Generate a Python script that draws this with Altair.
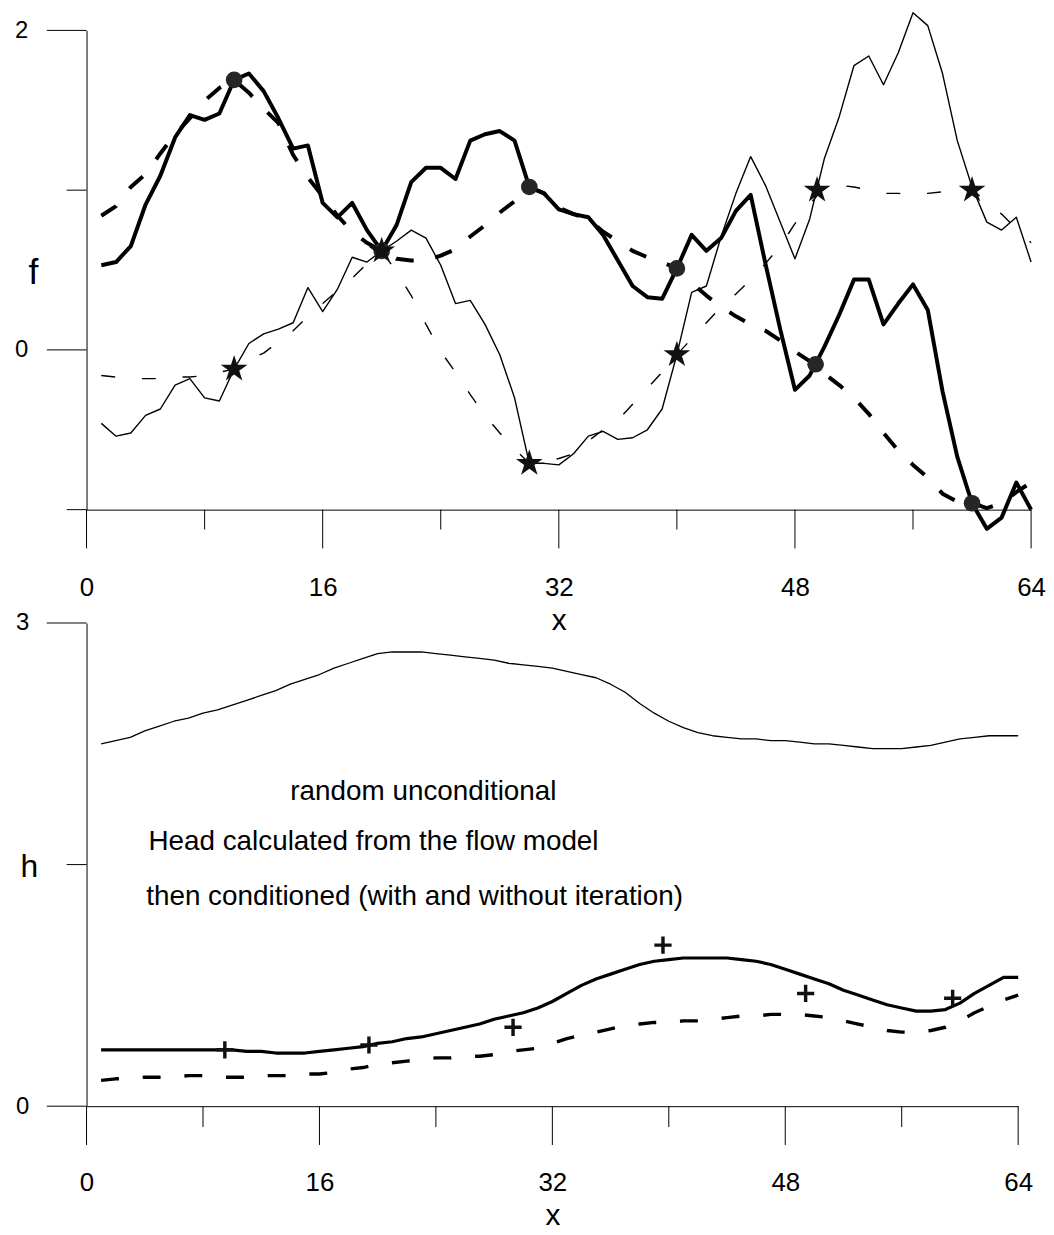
import altair as alt
import pandas as pd

FONT = "Liberation Sans"

# ---------------- data: top panel (f) ----------------
x_grid = list(range(1, 65))

f_cond_sim = [0.53, 0.55, 0.65, 0.91, 1.09, 1.33, 1.47, 1.44, 1.48, 1.69,
              1.73, 1.62, 1.45, 1.26, 1.28, 0.92, 0.83, 0.92, 0.75, 0.62,
              0.78, 1.05, 1.14, 1.14, 1.07, 1.31, 1.35, 1.37, 1.31, 1.02,
              0.98, 0.88, 0.85, 0.83, 0.72, 0.56, 0.40, 0.33, 0.32, 0.51,
              0.72, 0.62, 0.70, 0.87, 0.97, 0.54, 0.13, -0.25, -0.16, 0.02,
              0.22, 0.44, 0.44, 0.16, 0.29, 0.41, 0.25, -0.26, -0.67, -0.96,
              -1.12, -1.05, -0.83, -1.00]

f_cond_krig = [0.84, 0.90, 1.02, 1.10, 1.23, 1.35, 1.45, 1.56, 1.64, 1.69,
               1.61, 1.51, 1.42, 1.22, 1.08, 0.96, 0.84, 0.74, 0.67, 0.62,
               0.57, 0.56, 0.56, 0.59, 0.63, 0.71, 0.78, 0.86, 0.93, 1.02,
               0.98, 0.89, 0.85, 0.82, 0.74, 0.68, 0.62, 0.58, 0.55, 0.51,
               0.42, 0.34, 0.27, 0.21, 0.16, 0.12, 0.06, -0.01, -0.07, -0.15,
               -0.22, -0.30, -0.40, -0.52, -0.63, -0.72, -0.80, -0.90, -0.95, -0.96,
               -0.99, -0.96, -0.89, -0.83]

f_uncond_sim = [-0.46, -0.54, -0.52, -0.41, -0.37, -0.22, -0.18, -0.30, -0.32, -0.12,
                0.04, 0.10, 0.13, 0.17, 0.39, 0.24, 0.38, 0.58, 0.55, 0.62,
                0.68, 0.75, 0.70, 0.53, 0.29, 0.31, 0.16, -0.03, -0.30, -0.71,
                -0.71, -0.72, -0.65, -0.54, -0.51, -0.56, -0.55, -0.50, -0.37, -0.03,
                0.36, 0.40, 0.71, 0.98, 1.21, 1.03, 0.80, 0.57, 0.82, 1.20,
                1.46, 1.78, 1.84, 1.66, 1.86, 2.11, 2.03, 1.73, 1.31, 1.02,
                0.80, 0.75, 0.83, 0.55]

f_uncond_krig = [-0.16, -0.17, -0.18, -0.18, -0.18, -0.17, -0.17, -0.16, -0.14, -0.12,
                 -0.06, -0.02, 0.05, 0.12, 0.21, 0.29, 0.37, 0.45, 0.54, 0.62,
                 0.49, 0.34, 0.16, -0.01, -0.14, -0.28, -0.41, -0.52, -0.62, -0.71,
                 -0.70, -0.68, -0.65, -0.57, -0.50, -0.44, -0.34, -0.24, -0.14, -0.03,
                 0.07, 0.17, 0.27, 0.35, 0.44, 0.54, 0.65, 0.79, 0.91, 1.02,
                 1.03, 1.02, 1.00, 0.98, 0.98, 0.97, 0.98, 0.99, 1.00, 1.00,
                 0.93, 0.85, 0.76, 0.67]

circle_x = [10, 20, 30, 40, 49.4, 60]
circle_y = [1.69, 0.62, 1.02, 0.51, -0.09, -0.96]
star_x = [10, 20, 30, 40, 49.5, 60]
star_y = [-0.12, 0.62, -0.71, -0.03, 1.00, 1.00]

# ---------------- data: bottom panel (h) ----------------
h_uncond = [2.25, 2.27, 2.29, 2.33, 2.36, 2.39, 2.41, 2.44, 2.46, 2.49,
            2.52, 2.55, 2.58, 2.62, 2.65, 2.68, 2.72, 2.75, 2.78, 2.81,
            2.82, 2.82, 2.82, 2.81, 2.80, 2.79, 2.78, 2.77, 2.75, 2.74,
            2.73, 2.72, 2.70, 2.68, 2.66, 2.62, 2.57, 2.50, 2.44, 2.39,
            2.35, 2.32, 2.30, 2.29, 2.28, 2.28, 2.27, 2.27, 2.26, 2.25,
            2.25, 2.24, 2.23, 2.22, 2.22, 2.22, 2.23, 2.24, 2.26, 2.28,
            2.29, 2.30, 2.30, 2.30]

h_cond_iter = [0.35, 0.35, 0.35, 0.35, 0.35, 0.35, 0.35, 0.35, 0.35, 0.35,
               0.34, 0.34, 0.33, 0.33, 0.33, 0.34, 0.35, 0.36, 0.37, 0.39,
               0.40, 0.42, 0.43, 0.45, 0.47, 0.49, 0.51, 0.54, 0.56, 0.58,
               0.61, 0.65, 0.70, 0.75, 0.79, 0.82, 0.85, 0.88, 0.90, 0.91,
               0.92, 0.92, 0.92, 0.92, 0.91, 0.90, 0.88, 0.85, 0.82, 0.79,
               0.76, 0.72, 0.69, 0.66, 0.63, 0.61, 0.59, 0.59, 0.60, 0.64,
               0.70, 0.75, 0.80, 0.80]

h_cond_noiter = [0.16, 0.17, 0.17, 0.18, 0.18, 0.18, 0.19, 0.19, 0.18, 0.18,
                 0.18, 0.19, 0.19, 0.19, 0.20, 0.20, 0.21, 0.23, 0.24, 0.26,
                 0.27, 0.28, 0.29, 0.30, 0.30, 0.31, 0.31, 0.32, 0.34, 0.35,
                 0.36, 0.39, 0.42, 0.44, 0.46, 0.48, 0.50, 0.51, 0.52, 0.52,
                 0.53, 0.53, 0.54, 0.55, 0.56, 0.56, 0.57, 0.57, 0.57, 0.56,
                 0.55, 0.53, 0.51, 0.49, 0.47, 0.46, 0.46, 0.47, 0.49, 0.53,
                 0.58, 0.62, 0.66, 0.69]

cross_x = [9.5, 19.4, 29.3, 39.6, 49.4, 59.5]
cross_y = [0.35, 0.38, 0.49, 1.00, 0.70, 0.67]

notes = ["random unconditional",
         "Head calculated from the flow model",
         "then conditioned (with and without iteration)"]
note_x = [14.0, 4.25, 4.1]
note_y = [1.90, 1.59, 1.25]

# ---------------- ticks ----------------
x_major_ticks = [0, 16, 32, 48, 64]
x_minor_ticks = [8, 24, 40, 56]
f_major_ticks = [0, 2]
f_minor_ticks = [-1, 1]
h_major_ticks = [0, 3]
h_minor_ticks = [1.5]

STAR = ("M0,-1 L0.2245,-0.309 L0.951,-0.309 L0.363,0.118 L0.588,0.809 "
        "L0,0.382 L-0.588,0.809 L-0.363,0.118 L-0.951,-0.309 L-0.2245,-0.309 Z")
PLUS = ("M-0.2,-1 L0.2,-1 L0.2,-0.2 L1,-0.2 L1,0.2 L0.2,0.2 L0.2,1 L-0.2,1 "
        "L-0.2,0.2 L-1,0.2 L-1,-0.2 L-0.2,-0.2 Z")

W1, H1 = 950, 482
W2, H2 = 937, 486

xs1 = alt.Scale(domain=[0, 64], nice=False, zero=False)
ys1 = alt.Scale(domain=[-1, 2], nice=False, zero=False)
xs2 = alt.Scale(domain=[0, 64], nice=False, zero=False)
ys2 = alt.Scale(domain=[0, 3], nice=False, zero=False)

common = dict(ticks=False, grid=False, domain=True, domainColor="black", domainWidth=1,
              labelFont=FONT, labelColor="black", labelFlush=False,
              titleFont=FONT, titleColor="black", titleFontWeight="normal")

x_axis1 = alt.Axis(values=x_major_ticks, labelPadding=65, labelFontSize=26,
                   title="x", titleFontSize=30, titleY=121, titleBaseline="alphabetic", **common)
y_axis1 = alt.Axis(values=f_major_ticks, labelPadding=59, labelFontSize=24,
                   title="f", titleFontSize=36, titleAngle=0, titleX=-54, titleY=255,
                   titleAlign="center", titleBaseline="alphabetic", **common)
x_axis2 = alt.Axis(values=x_major_ticks, labelPadding=64, labelFontSize=26,
                   title="x", titleFontSize=30, titleY=119, titleBaseline="alphabetic", **common)
y_axis2 = alt.Axis(values=h_major_ticks, labelPadding=58, labelFontSize=24,
                   title="h", titleFontSize=32, titleAngle=0, titleX=-58, titleY=255,
                   titleAlign="center", titleBaseline="alphabetic", **common)


def line(df, col, P, width, dash=None):
    xs, ys, xa, ya = P
    props = dict(color="black", strokeWidth=width, strokeJoin="round")
    if dash:
        props["strokeDash"] = dash
    return alt.Chart(df).mark_line(**props).encode(
        x=alt.X("x:Q", scale=xs, axis=xa),
        y=alt.Y(f"{col}:Q", scale=ys, axis=ya),
    )


def xticks(vals, P, H, length):
    xs, ys, xa, ya = P
    return alt.Chart(pd.DataFrame({"v": vals})).mark_rule(color="black", strokeWidth=1).encode(
        x=alt.X("v:Q", scale=xs, axis=xa), y=alt.value(H), y2=alt.value(H + length))


def yticks(vals, P, length):
    xs, ys, xa, ya = P
    return alt.Chart(pd.DataFrame({"v": vals})).mark_rule(color="black", strokeWidth=1).encode(
        y=alt.Y("v:Q", scale=ys, axis=ya), x=alt.value(0), x2=alt.value(-length))


def points(xv, yv, P, shape, size, color):
    xs, ys, xa, ya = P
    return alt.Chart(pd.DataFrame({"px": xv, "py": yv})).mark_point(
        shape=shape, size=size, filled=True, color=color, opacity=1, strokeWidth=0).encode(
        x=alt.X("px:Q", scale=xs, axis=xa), y=alt.Y("py:Q", scale=ys, axis=ya))


P1 = (xs1, ys1, x_axis1, y_axis1)
P2 = (xs2, ys2, x_axis2, y_axis2)

top_df = pd.DataFrame({"x": x_grid, "cs": f_cond_sim, "ck": f_cond_krig,
                       "us": f_uncond_sim, "uk": f_uncond_krig})
bot_df = pd.DataFrame({"x": x_grid, "hu": h_uncond, "hi": h_cond_iter, "hn": h_cond_noiter})

top = alt.layer(
    line(top_df, "cs", P1, 4),
    line(top_df, "ck", P1, 4, dash=[18, 22]),
    line(top_df, "us", P1, 1.4),
    line(top_df, "uk", P1, 1.4, dash=[14, 27]),
    xticks(x_major_ticks, P1, H1, 39),
    xticks(x_minor_ticks, P1, H1, 20),
    yticks(f_major_ticks, P1, 40),
    yticks(f_minor_ticks, P1, 20),
    points(circle_x, circle_y, P1, "circle", 280, "#262626"),
    points(star_x, star_y, P1, STAR, 800, "#111111"),
).properties(width=W1, height=H1)

notes_df = pd.DataFrame({"t": notes, "nx": note_x, "ny": note_y})
notes_layer = alt.Chart(notes_df).mark_text(
    align="left", baseline="alphabetic", fontSize=28, font=FONT, color="black").encode(
    x=alt.X("nx:Q", scale=xs2, axis=x_axis2), y=alt.Y("ny:Q", scale=ys2, axis=y_axis2), text="t:N")

bottom = alt.layer(
    line(bot_df, "hu", P2, 1.3),
    line(bot_df, "hi", P2, 3.2),
    line(bot_df, "hn", P2, 3.4, dash=[18, 24]),
    xticks(x_major_ticks, P2, H2, 39),
    xticks(x_minor_ticks, P2, H2, 21),
    yticks(h_major_ticks, P2, 40),
    yticks(h_minor_ticks, P2, 20),
    points(cross_x, cross_y, P2, PLUS, 300, "#111111"),
    notes_layer,
).properties(width=W2, height=H2)

chart = alt.vconcat(top, bottom, spacing=114, bounds="flush").resolve_scale(
    x="independent", y="independent"
).properties(
    padding={"left": 6, "top": 0, "right": 0, "bottom": 0},
    background="white",
).configure_view(stroke=None)

chart.save("out.html", embed_options={"renderer": "svg", "actions": False})
